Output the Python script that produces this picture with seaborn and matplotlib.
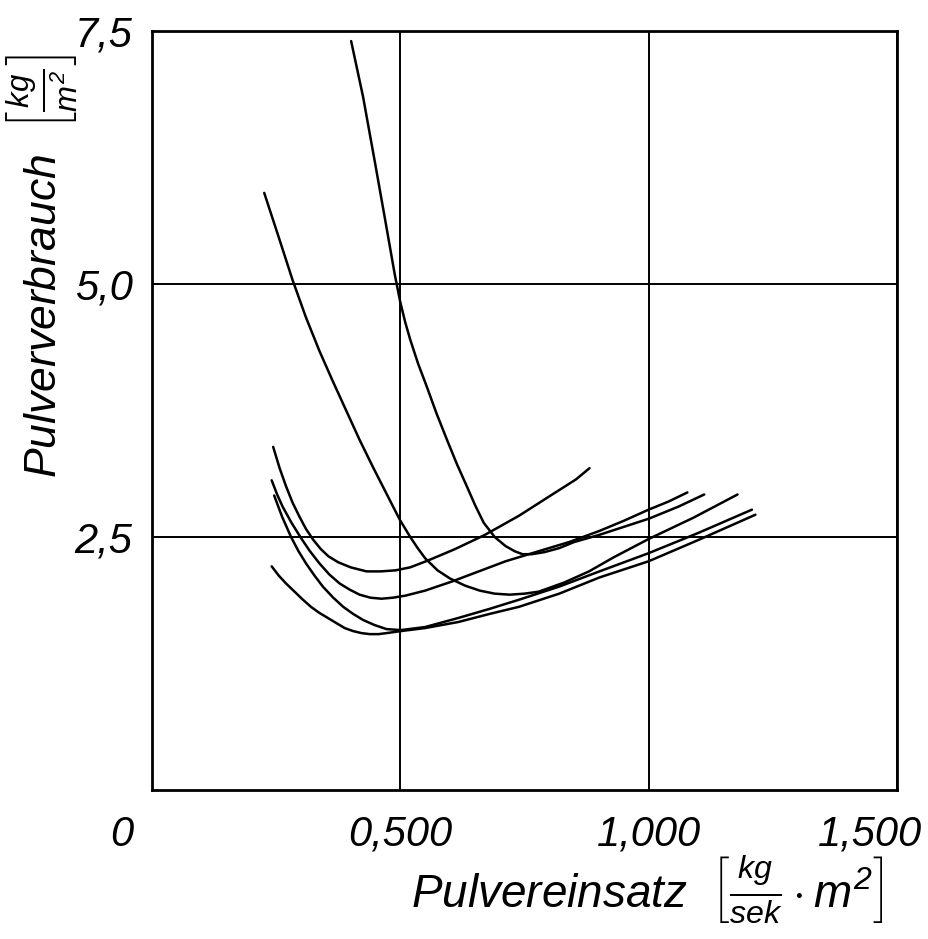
import matplotlib
matplotlib.use("Agg")
import matplotlib.pyplot as plt
from matplotlib.transforms import ScaledTranslation
import pandas as pd
import seaborn as sns

# Axis ticks and labels (German decimal comma)
x_ticks = [0.0, 0.5, 1.0, 1.5]
x_tick_labels = ["0", "0,500", "1,000", "1,500"]
y_ticks = [2.5, 5.0, 7.5]
y_tick_labels = ["2,5", "5,0", "7,5"]

x_label = r"Pulvereinsatz  $\left[\frac{kg}{sek}\cdot m^2\right]$"
y_label = r"Pulververbrauch  $\left[\frac{kg}{m^2}\right]$"

# Powder consumption curves: Pulvereinsatz (x) vs. Pulververbrauch (y)
curve_a_x = [0.401, 0.425, 0.449, 0.470, 0.489, 0.500, 0.510, 0.520, 0.536, 0.553,
             0.573, 0.594, 0.614, 0.634, 0.651, 0.668, 0.690, 0.712, 0.730, 0.746,
             0.765, 0.790, 0.820, 0.850, 0.900, 0.950, 1.000, 1.060, 1.112]
curve_a_y = [7.40, 6.85, 6.20, 5.62, 5.09, 4.82, 4.62, 4.45, 4.21, 3.99,
             3.72, 3.46, 3.22, 3.00, 2.81, 2.64, 2.50, 2.41, 2.36, 2.33,
             2.33, 2.35, 2.39, 2.45, 2.52, 2.60, 2.68, 2.80, 2.92]

curve_b_x = [0.226, 0.256, 0.283, 0.310, 0.337, 0.364, 0.391, 0.418, 0.445, 0.472,
             0.499, 0.520, 0.535, 0.550, 0.575, 0.600, 0.630, 0.660, 0.690, 0.720,
             0.750, 0.779, 0.830, 0.880, 0.930, 1.000, 1.090, 1.179]
curve_b_y = [5.90, 5.45, 5.04, 4.67, 4.34, 4.04, 3.75, 3.46, 3.19, 2.93,
             2.67, 2.50, 2.39, 2.29, 2.17, 2.09, 2.02, 1.97, 1.94, 1.93,
             1.94, 1.96, 2.05, 2.16, 2.30, 2.48, 2.69, 2.92]

curve_c_x = [0.244, 0.257, 0.270, 0.283, 0.297, 0.310, 0.325, 0.340, 0.355, 0.375,
             0.400, 0.432, 0.460, 0.490, 0.520, 0.557, 0.610, 0.670, 0.739, 0.806,
             0.854, 0.881]
curve_c_y = [3.39, 3.18, 3.00, 2.84, 2.70, 2.58, 2.47, 2.38, 2.31, 2.25,
             2.20, 2.16, 2.16, 2.17, 2.20, 2.27, 2.38, 2.52, 2.71, 2.92,
             3.07, 3.18]

curve_d_x = [0.241, 0.252, 0.263, 0.281, 0.300, 0.318, 0.337, 0.357, 0.378, 0.398,
             0.418, 0.440, 0.462, 0.485, 0.510, 0.550, 0.604, 0.658, 0.712, 0.779,
             0.840, 0.901, 0.950, 1.000, 1.040, 1.078]
curve_d_y = [3.06, 2.92, 2.80, 2.64, 2.49, 2.36, 2.24, 2.13, 2.04, 1.98,
             1.93, 1.90, 1.89, 1.90, 1.92, 1.97, 2.06, 2.16, 2.26, 2.36,
             2.45, 2.56, 2.66, 2.77, 2.85, 2.94]

curve_e_x = [0.246, 0.262, 0.280, 0.295, 0.310, 0.327, 0.344, 0.365, 0.385, 0.405,
             0.425, 0.448, 0.472, 0.501, 0.550, 0.617, 0.680, 0.739, 0.820, 0.901,
             1.000, 1.100, 1.208]
curve_e_y = [2.91, 2.70, 2.50, 2.36, 2.24, 2.12, 2.01, 1.90, 1.81, 1.74,
             1.68, 1.63, 1.59, 1.58, 1.61, 1.70, 1.79, 1.88, 2.01, 2.16,
             2.34, 2.54, 2.77]

curve_f_x = [0.241, 0.255, 0.270, 0.287, 0.304, 0.320, 0.337, 0.354, 0.371, 0.388,
             0.405, 0.422, 0.439, 0.456, 0.472, 0.501, 0.550, 0.617, 0.680, 0.739,
             0.820, 0.901, 1.000, 1.100, 1.215]
curve_f_y = [2.21, 2.12, 2.04, 1.96, 1.88, 1.81, 1.75, 1.70, 1.65, 1.60,
             1.57, 1.55, 1.54, 1.54, 1.55, 1.57, 1.60, 1.66, 1.74, 1.81,
             1.94, 2.10, 2.26, 2.47, 2.72]

curves = {
    "a": (curve_a_x, curve_a_y),
    "b": (curve_b_x, curve_b_y),
    "c": (curve_c_x, curve_c_y),
    "d": (curve_d_x, curve_d_y),
    "e": (curve_e_x, curve_e_y),
    "f": (curve_f_x, curve_f_y),
}

frames = []
for name, (xs, ys) in curves.items():
    frames.append(pd.DataFrame({"einsatz": xs, "verbrauch": ys, "kurve": name}))
data = pd.concat(frames, ignore_index=True)

sns.set_theme(style="white")
plt.rcParams["font.family"] = ["Liberation Sans", "DejaVu Sans"]
plt.rcParams["font.style"] = "italic"
plt.rcParams["mathtext.fontset"] = "custom"
plt.rcParams["mathtext.rm"] = "Liberation Sans:italic"
plt.rcParams["mathtext.it"] = "Liberation Sans:italic"

fig = plt.figure(figsize=(9.29, 9.39), dpi=100)
ax = fig.add_axes([0.1636, 0.1587, 0.8019, 0.8083])

sns.lineplot(
    data=data, x="einsatz", y="verbrauch", hue="kurve",
    units="kurve", estimator=None, sort=False,
    palette=["black"] * len(curves), linewidth=1.8, legend=False, ax=ax,
)

ax.set_xlim(0, 1.5)
ax.set_ylim(0, 7.5)
ax.set_xticks(x_ticks)
ax.set_xticklabels(x_tick_labels)
ax.set_yticks(y_ticks)
ax.set_yticklabels(y_tick_labels)

ax.grid(True, color="black", linewidth=1.4)
ax.set_axisbelow(True)
for spine in ax.spines.values():
    spine.set_visible(True)
    spine.set_color("black")
    spine.set_linewidth(2.0)

ax.tick_params(axis="both", length=0, labelsize=30, colors="black")
ax.tick_params(axis="x", pad=18)
ax.tick_params(axis="y", pad=14)
for lab in ax.get_xticklabels() + ax.get_yticklabels():
    lab.set_fontstyle("italic")

# nudge the outer x labels: "0" left of the corner, "1,500" kept inside the page
xlabs = ax.get_xticklabels()
xlabs[0].set_transform(xlabs[0].get_transform() + ScaledTranslation(-0.3, 0, fig.dpi_scale_trans))
xlabs[-1].set_transform(xlabs[-1].get_transform() + ScaledTranslation(-0.27, 0, fig.dpi_scale_trans))

ax.set_xlabel(x_label, fontsize=33, fontstyle="italic", color="black")
ax.set_ylabel(y_label, fontsize=32, fontstyle="italic", color="black")
ax.xaxis.set_label_coords(0.665, -0.083)
ax.yaxis.set_label_coords(-0.098, 0.69)

fig.savefig("out.png", dpi=100, facecolor="white")
